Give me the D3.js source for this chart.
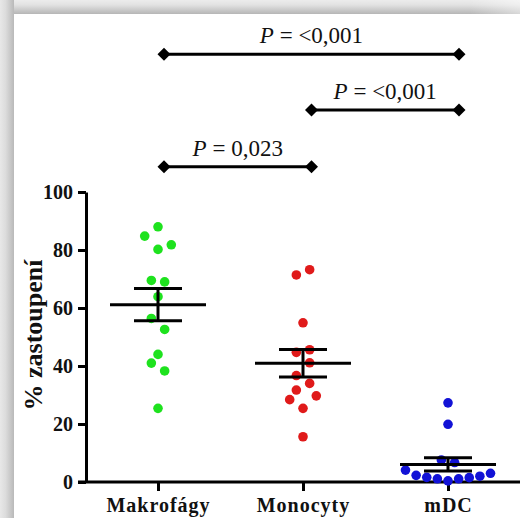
<!DOCTYPE html>
<html>
<head>
<meta charset="utf-8">
<script src="https://cdn.jsdelivr.net/npm/d3@7"></script>
<style>
  @font-face { font-family: "RefSerif"; font-weight: normal; font-style: normal;
    src: local("Liberation Serif"), local("LiberationSerif"), local("LiberationSerif-Regular"), local("Tinos"), local("Times New Roman"), local("DejaVu Serif"); }
  @font-face { font-family: "RefSerif"; font-weight: bold; font-style: normal;
    src: local("Liberation Serif Bold"), local("LiberationSerif-Bold"), local("Tinos Bold"), local("Times New Roman Bold"), local("DejaVu Serif Bold"); }
  @font-face { font-family: "RefSerif"; font-weight: normal; font-style: italic;
    src: local("Liberation Serif Italic"), local("LiberationSerif-Italic"), local("Tinos Italic"), local("Times New Roman Italic"), local("DejaVu Serif Italic"); }
  html, body { margin: 0; padding: 0; background: #ffffff; }
  svg { display: block; }
  svg text { font-family: "Liberation Serif", RefSerif, "Times New Roman", Times, "DejaVu Serif", serif; }
</style>
</head>
<body>
<script>
// ---------------- data ----------------
const categories = ["Makrofágy", "Monocyty", "mDC"];
const makrofagy = [88.0, 84.8, 81.8, 80.2, 69.5, 69.0, 63.9, 56.4, 52.6, 44.0, 41.0, 38.3, 25.4];
const monocyty  = [73.2, 71.4, 54.9, 45.6, 44.7, 41.1, 36.7, 34.0, 31.7, 29.7, 28.4, 25.4, 15.6];
const mdc       = [27.3, 19.9, 7.6, 6.7, 4.1, 3.0, 2.3, 2.0, 1.6, 1.5, 1.1, 1.1, 0.4];
const seriesValues = [makrofagy, monocyty, mdc];
const seriesColors = ["#1ee21e", "#e01a1a", "#1212d6"];
const yTicks = [0, 20, 40, 60, 80, 100];
const yTitle = "% zastoupení";
// significance comparisons (column indices) and their P labels
const compFrom   = [0, 1, 0];
const compTo     = [2, 2, 1];
const compLevel  = [147.5, 128.3, 108.7];   // height in axis units
const compLabels = ["= <0,001", "= <0,001", "= 0,023"];

// ---------------- layout ----------------
const W = 520, H = 518;
const svg = d3.select("body").append("svg").attr("width", W).attr("height", H);

// frame (shadow bands top + left)
const defs = svg.append("defs");
const gTop = defs.append("linearGradient").attr("id", "gTop").attr("x1", 0).attr("y1", 0).attr("x2", 0).attr("y2", 1);
gTop.append("stop").attr("offset", "0%").attr("stop-color", "#ececec");
gTop.append("stop").attr("offset", "35%").attr("stop-color", "#e2e2e2");
gTop.append("stop").attr("offset", "100%").attr("stop-color", "#b6b6b6");
const gLeft = defs.append("linearGradient").attr("id", "gLeft").attr("x1", 0).attr("y1", 0).attr("x2", 1).attr("y2", 0);
gLeft.append("stop").attr("offset", "0%").attr("stop-color", "#e8e8e8");
gLeft.append("stop").attr("offset", "40%").attr("stop-color", "#dcdcdc");
gLeft.append("stop").attr("offset", "100%").attr("stop-color", "#b9b9b9");
const gFade = defs.append("linearGradient").attr("id", "gFade").attr("x1", 0).attr("y1", 0).attr("x2", 1).attr("y2", 0);
gFade.append("stop").attr("offset", "0%").attr("stop-color", "#ffffff").attr("stop-opacity", 0);
gFade.append("stop").attr("offset", "100%").attr("stop-color", "#ffffff").attr("stop-opacity", 0.45);

svg.append("rect").attr("x", 0).attr("y", 0).attr("width", W).attr("height", 14).attr("fill", "url(#gTop)");
svg.append("rect").attr("x", 470).attr("y", 0).attr("width", 50).attr("height", 14).attr("fill", "url(#gFade)");
svg.append("rect").attr("x", 0).attr("y", 0).attr("width", 14).attr("height", H).attr("fill", "url(#gLeft)");

// scales
const y = d3.scaleLinear().domain([0, 100]).range([482, 192]);
const x = d3.scalePoint().domain(categories).range([158, 448]);
const xb = d3.scaleLinear().domain([0, 2]).range([164, 459]); // bracket positions

// ---------------- axes ----------------
const yAxis = d3.axisLeft(y).tickValues(yTicks).tickSize(8).tickSizeOuter(0).tickPadding(5);
const gy = svg.append("g").attr("transform", "translate(86,0)").call(yAxis);
gy.attr("font-family", null);
gy.select(".domain").attr("stroke", "#000").attr("stroke-width", 3);
gy.selectAll(".tick line").attr("stroke", "#000").attr("stroke-width", 3);
gy.selectAll(".tick text").attr("font-size", 20)
  .attr("font-weight", "bold").attr("fill", "#111");

const xAxis = d3.axisBottom(x).tickSize(9).tickSizeOuter(0).tickPadding(7);
const gx = svg.append("g").attr("transform", "translate(0," + y(0) + ")").call(xAxis);
gx.attr("font-family", null);
gx.select(".domain").remove();
gx.selectAll(".tick line").attr("stroke", "#000").attr("stroke-width", 3);
gx.selectAll(".tick text").attr("font-size", 20)
  .attr("font-weight", "bold").attr("fill", "#111").attr("letter-spacing", "1px");
svg.append("line").attr("x1", 78).attr("x2", W).attr("y1", y(0)).attr("y2", y(0))
  .attr("stroke", "#000").attr("stroke-width", 3);

svg.append("text").attr("transform", "translate(42," + (y(50) - 2) + ") rotate(-90)")
  .attr("text-anchor", "middle").attr("font-size", 26)
  .attr("font-weight", "bold").attr("fill", "#111").text(yTitle);

// ---------------- column scatter (row-based swarm) ----------------
function swarm(values, col) {
  const cx = x(categories[col]);
  const asc = values.slice().sort((a, b) => a - b);
  const rows = [];
  let cur = null;
  asc.forEach(v => {
    if (cur && (y(cur.start) - y(v)) < 14) cur.items.push(v);
    else { cur = { start: v, items: [v] }; rows.push(cur); }
  });
  const pts = [];
  const leftFirst = col % 2 === 0;
  rows.forEach(r => {
    const items = r.items.slice().sort((a, b) => b - a);
    const n = items.length;
    const sp = n > 1 ? Math.min(13.3, 85 / (n - 1)) : 0;
    const pos = d3.range(n).map(i => (i - (n - 1) / 2) * sp);
    let li = 0, ri = n - 1;
    items.forEach((v, k) => {
      const takeLeft = (k % 2 === 0) === leftFirst;
      const off = takeLeft ? pos[li++] : pos[ri--];
      pts.push({ x: cx + off, y: y(v) });
    });
  });
  return pts;
}

seriesValues.forEach((vals, i) => {
  svg.append("g").selectAll("circle").data(swarm(vals, i)).join("circle")
    .attr("cx", d => d.x).attr("cy", d => d.y).attr("r", 4.8)
    .attr("fill", seriesColors[i]);
});

// mean ± SEM
seriesValues.forEach((vals, i) => {
  const cx = x(categories[i]);
  const m = d3.mean(vals);
  const sem = d3.deviation(vals) / Math.sqrt(vals.length);
  const g = svg.append("g").attr("stroke", "#000").attr("stroke-width", 3);
  g.append("line").attr("x1", cx - 48).attr("x2", cx + 48).attr("y1", y(m)).attr("y2", y(m));
  g.append("line").attr("x1", cx).attr("x2", cx).attr("y1", y(m + sem)).attr("y2", y(m - sem));
  g.append("line").attr("x1", cx - 24).attr("x2", cx + 24).attr("y1", y(m + sem)).attr("y2", y(m + sem));
  g.append("line").attr("x1", cx - 24).attr("x2", cx + 24).attr("y1", y(m - sem)).attr("y2", y(m - sem));
});

// ---------------- significance brackets ----------------
const diamond = "M0,-6.5L6.5,0L0,6.5L-6.5,0Z";
compFrom.forEach((f, i) => {
  const x1 = xb(f), x2 = xb(compTo[i]), yy = y(compLevel[i]);
  const g = svg.append("g");
  g.append("line").attr("x1", x1).attr("x2", x2).attr("y1", yy).attr("y2", yy)
    .attr("stroke", "#000").attr("stroke-width", 3);
  [x1, x2].forEach(xx => g.append("path").attr("d", diamond)
    .attr("transform", "translate(" + xx + "," + yy + ")").attr("fill", "#000"));
  const t = g.append("text").attr("x", (x1 + x2) / 2).attr("y", yy - 11)
    .attr("text-anchor", "middle").attr("font-size", 23).attr("fill", "#111");
  t.append("tspan").attr("font-style", "italic").text("P");
  t.append("tspan").text(" " + compLabels[i]);
});
</script>
</body>
</html>
